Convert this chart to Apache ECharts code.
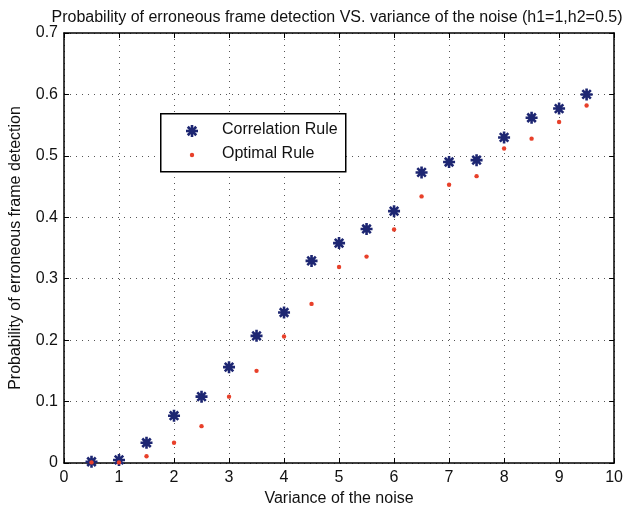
<!DOCTYPE html>
<html><head><meta charset="utf-8">
<script src="https://cdn.jsdelivr.net/npm/echarts@6/dist/echarts.min.js"></script>
<style>html,body{margin:0;padding:0;background:#fff}#c{width:626px;height:512px}</style>
</head><body><div id="c"></div>
<script>
const variance = [0.5,1,1.5,2,2.5,3,3.5,4,4.5,5,5.5,6,6.5,7,7.5,8,8.5,9,9.5];
const correlationRule = [0.002,0.005,0.033,0.077,0.108,0.156,0.207,0.245,0.329,0.358,0.381,0.410,0.473,0.490,0.493,0.530,0.562,0.577,0.600];
const optimalRule = [0.001,0.001,0.011,0.033,0.060,0.108,0.150,0.206,0.259,0.319,0.336,0.380,0.434,0.453,0.467,0.512,0.528,0.555,0.582];
const legendNames = ['Correlation Rule','Optimal Rule'];
const titleText = 'Probability of erroneous frame detection VS. variance of the noise (h1=1,h2=0.5)';
const xName = 'Variance of the noise';
const yName = 'Probability of erroneous frame detection';

const font = 'Liberation Sans, Arial, Helvetica, sans-serif';
const star = 'path://M0,-10 L0,10 M-10,0 L10,0 M-7.07,-7.07 L7.07,7.07 M-7.07,7.07 L7.07,-7.07';
const blue = '#1d2672', red = '#e8402a';
const chart = echarts.init(document.getElementById('c'), null, {renderer:'canvas'});
const tickStyle = {show:true, inside:true, length:5, lineStyle:{color:'#000', width:1}};
const gridLine = {show:true, lineStyle:{color:'#555', type:[1,5], width:1}};
function starLines(cx, cy, r) {
  const d = r * 0.7071;
  const segs = [[0,-r,0,r],[-r,0,r,0],[-d,-d,d,d],[-d,d,d,-d]];
  return segs.map(s => ({type:'line', z:101,
    shape:{x1:cx+s[0], y1:cy+s[1], x2:cx+s[2], y2:cy+s[3]},
    style:{stroke:blue, lineWidth:2.6}}));
}
chart.setOption({
  backgroundColor:'#fff',
  animation:false,
  title:{text:titleText, left:332, textAlign:'center', top:5,
    textStyle:{fontFamily:font, fontSize:16, fontWeight:'normal', color:'#111'}},
  grid:{left:63, right:8, top:33, bottom:44},
  graphic:[
    {type:'rect', left:160, top:113, z:100,
      shape:{width:185, height:58}, style:{fill:'#fff', stroke:'#000', lineWidth:1.5}},
    ...starLines(192, 131, 6),
    {type:'circle', z:101, shape:{cx:192, cy:155, r:2.2}, style:{fill:red}},
    {type:'text', z:101, left:222, top:122,
      style:{text:legendNames[0], font:'16px '+font, fill:'#111'}},
    {type:'text', z:101, left:222, top:146,
      style:{text:legendNames[1], font:'16px '+font, fill:'#111'}}
  ],
  xAxis:[{type:'value', min:0, max:10, interval:1, position:'bottom',
      name:xName, nameLocation:'middle', nameGap:28,
      nameTextStyle:{fontFamily:font, fontSize:16, color:'#111'},
      axisLine:{show:true, lineStyle:{color:'#000', width:1.5}},
      axisTick:tickStyle, splitLine:gridLine,
      axisLabel:{fontFamily:font, fontSize:16, color:'#111', margin:7}},
    {type:'value', min:0, max:10, interval:1, position:'top',
      axisLine:{show:true, onZero:false, lineStyle:{color:'#000', width:1.5}},
      axisTick:tickStyle, splitLine:{show:false}, axisLabel:{show:false}}],
  yAxis:[{type:'value', min:0, max:0.7, interval:0.1, position:'left',
      name:yName, nameLocation:'middle', nameGap:40, nameRotate:90,
      nameTextStyle:{fontFamily:font, fontSize:16, color:'#111'},
      axisLine:{show:true, lineStyle:{color:'#000', width:1.5}},
      axisTick:tickStyle, splitLine:gridLine,
      axisLabel:{fontFamily:font, fontSize:16, color:'#111', margin:6,
        formatter:v=>String(Math.round(v*10)/10)}},
    {type:'value', min:0, max:0.7, interval:0.1, position:'right',
      axisLine:{show:true, onZero:false, lineStyle:{color:'#000', width:1.5}},
      axisTick:tickStyle, splitLine:{show:false}, axisLabel:{show:false}}],
  series:[
    {name:legendNames[0], type:'scatter', symbol:star, symbolSize:12,
      itemStyle:{color:blue, borderColor:blue, borderWidth:2.6, opacity:1},
      data:variance.map((x,i)=>[x, correlationRule[i]]), z:3},
    {name:legendNames[1], type:'scatter', symbol:'circle', symbolSize:4.4,
      itemStyle:{color:red, opacity:1},
      data:variance.map((x,i)=>[x, optimalRule[i]]), z:4}
  ]
});
</script></body></html>
